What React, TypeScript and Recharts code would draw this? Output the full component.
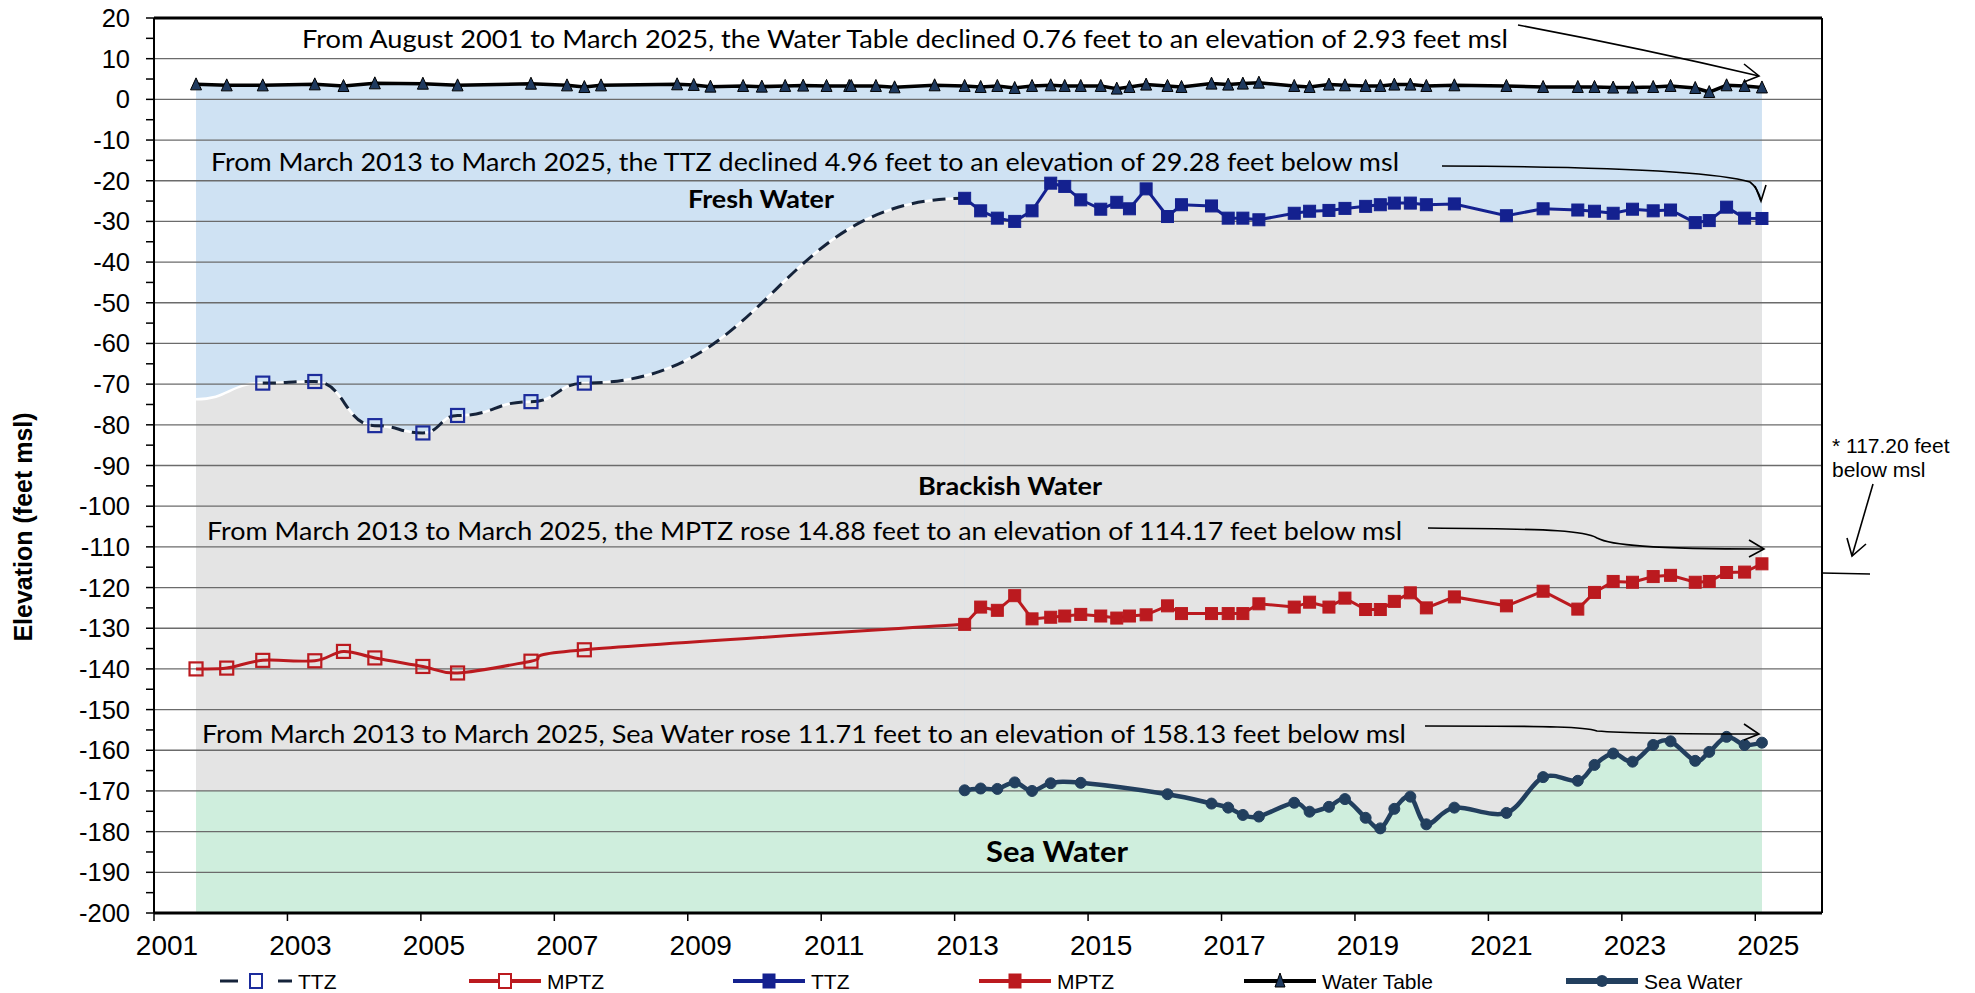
import React from 'react';
import { ComposedChart, Line, Area, XAxis, YAxis, ReferenceLine, Legend } from 'recharts';

// survey dates (decimal years) and elevations (feet msl)
const earlyDates = [
  2001.63, 2002.09, 2002.63, 2003.41, 2003.84, 2004.31, 2005.03, 2005.55, 2006.65, 2007.19,
  2007.45, 2007.7, 2008.84, 2009.09, 2009.34, 2009.83, 2010.11, 2010.46, 2010.73, 2011.08,
  2011.42, 2011.45, 2011.82, 2012.1, 2012.7,
];
const earlyWaterTable = [
  3.69, 3.44, 3.44, 3.69, 3.28, 3.94, 3.85, 3.44, 3.85, 3.44,
  3.03, 3.44, 3.7, 3.55, 3.13, 3.3, 3.13, 3.3, 3.38, 3.3,
  3.3, 3.3, 3.3, 2.96, 3.46,
];

const earlyTtzDates = [2002.63, 2003.41, 2004.31, 2005.03, 2005.55, 2006.65, 2007.45];
const earlyTtz = [-69.75, -69.35, -80.2, -82.0, -77.7, -74.3, -69.75];

const earlyMptzDates = [2001.63, 2002.09, 2002.63, 2003.41, 2003.84, 2004.31, 2005.03, 2005.55, 2006.65, 2007.45];
const earlyMptz = [-140.0, -139.8, -137.9, -138.0, -135.7, -137.3, -139.4, -141.0, -138.1, -135.3];

const recentDates = [
  2013.15, 2013.39, 2013.64, 2013.9, 2014.16, 2014.44, 2014.65, 2014.89, 2015.19, 2015.43,
  2015.62, 2015.87, 2016.19, 2016.4, 2016.85, 2017.1, 2017.32, 2017.56, 2018.09, 2018.32,
  2018.61, 2018.85, 2019.16, 2019.38, 2019.59, 2019.83, 2020.07, 2020.49, 2021.27, 2021.82,
  2022.34, 2022.59, 2022.87, 2023.16, 2023.47, 2023.73, 2024.1, 2024.31, 2024.57, 2024.84,
  2025.1,
];
const recentWaterTable = [
  3.3, 3.05, 3.3, 2.8, 3.3, 3.46, 3.3, 3.3, 3.3, 2.64,
  3.05, 3.63, 3.3, 3.05, 3.87, 3.63, 3.87, 4.1, 3.3, 3.05,
  3.63, 3.46, 3.3, 3.3, 3.63, 3.63, 3.3, 3.46, 3.3, 3.05,
  3.05, 3.05, 2.9, 2.9, 3.05, 3.3, 2.8, 1.8, 3.46, 3.3,
  2.93,
];
const recentTtz = [
  -24.32, -27.4, -29.2, -30.0, -27.4, -20.6, -21.4, -24.7, -27.0, -25.3,
  -26.9, -22.0, -28.8, -25.9, -26.2, -29.2, -29.2, -29.6, -28.0, -27.5,
  -27.3, -26.8, -26.3, -25.9, -25.5, -25.5, -25.9, -25.7, -28.6, -26.9,
  -27.2, -27.5, -28.0, -27.0, -27.4, -27.2, -30.3, -29.8, -26.5, -29.2,
  -29.28,
];
const recentMptz = [
  -129.05, -124.8, -125.6, -122.0, -127.7, -127.3, -127.0, -126.6, -127.0, -127.5,
  -127.0, -126.7, -124.5, -126.4, -126.4, -126.4, -126.4, -124.0, -124.8, -123.6,
  -124.8, -122.6, -125.4, -125.4, -123.4, -121.3, -125.0, -122.3, -124.5, -120.9,
  -125.3, -121.2, -118.5, -118.7, -117.3, -117.0, -118.7, -118.5, -116.3, -116.2,
  -114.17,
];

const seaDates = [
  2013.15, 2013.39, 2013.64, 2013.9, 2014.16, 2014.44, 2014.89, 2016.19, 2016.85, 2017.1,
  2017.32, 2017.56, 2018.09, 2018.32, 2018.61, 2018.85, 2019.16, 2019.38, 2019.59, 2019.83,
  2020.07, 2020.49, 2021.27, 2021.82, 2022.34, 2022.59, 2022.87, 2023.16, 2023.47, 2023.73,
  2024.1, 2024.31, 2024.57, 2024.84, 2025.1,
];
const seaWater = [
  -169.84, -169.4, -169.5, -167.9, -170.0, -168.1, -168.0, -170.8, -173.1, -174.1,
  -175.9, -176.3, -172.9, -175.1, -173.9, -172.0, -176.6, -179.2, -174.4, -171.4,
  -178.2, -174.1, -175.4, -166.6, -167.5, -163.6, -160.8, -162.8, -158.7, -157.8,
  -162.6, -160.4, -156.7, -158.7, -158.13,
];

// edges of the shaded zones before the first TTZ / sea water readings
const brackishStart = -73.7;
const seaStart = -170;

const yearTicks = [2001, 2003, 2005, 2007, 2009, 2011, 2013, 2015, 2017, 2019, 2021, 2023, 2025];
const elevationTicks = [
  20, 15, 10, 5, 0, -5, -10, -15, -20, -25, -30, -35, -40, -45, -50, -55, -60, -65, -70, -75,
  -80, -85, -90, -95, -100, -105, -110, -115, -120, -125, -130, -135, -140, -145, -150, -155,
  -160, -165, -170, -175, -180, -185, -190, -195, -200,
];
const gridValues = [10, 0, -10, -20, -30, -40, -50, -60, -70, -80, -90, -100, -110, -120, -130, -140, -150, -160, -170, -180, -190];

// merge everything into one table keyed by date
const rows = new Map<number, any>();
const put = (dates: number[], values: number[], key: string) => {
  dates.forEach((d, i) => {
    const r = rows.get(d) ?? { x: d };
    r[key] = values[i];
    rows.set(d, r);
  });
};
put([...earlyDates, ...recentDates], [...earlyWaterTable, ...recentWaterTable], 'wt');
put([...earlyTtzDates, recentDates[0]], [...earlyTtz, recentTtz[0]], 'ttzOld');
put([...earlyMptzDates, recentDates[0]], [...earlyMptz, recentMptz[0]], 'mptzOld');
put(recentDates, recentTtz, 'ttz');
put(recentDates, recentMptz, 'mptz');
put(seaDates, seaWater, 'sea');
put([earlyDates[0], ...earlyTtzDates, recentDates[0]], [brackishStart, ...earlyTtz, recentTtz[0]], 'grayOld');
put(recentDates, recentTtz, 'grayNew');
put([earlyDates[0], ...seaDates], [seaStart, ...seaWater], 'green');
const data = [...rows.values()].sort((a, b) => a.x - b.x);

// Excel-like smoothed line (uniform Catmull-Rom)
const catmullRom = (context: any) => {
  let pts: number[][] = [];
  let line = NaN;
  return {
    areaStart() { line = 0; },
    areaEnd() { line = NaN; },
    lineStart() { pts = []; },
    point(x: number, y: number) { pts.push([+x, +y]); },
    lineEnd() {
      const n = pts.length;
      if (n > 0) {
        if (line) context.lineTo(pts[0][0], pts[0][1]);
        else context.moveTo(pts[0][0], pts[0][1]);
        for (let i = 0; i < n - 1; i += 1) {
          const p0 = pts[i - 1] || pts[i];
          const p1 = pts[i];
          const p2 = pts[i + 1];
          const p3 = pts[i + 2] || p2;
          context.bezierCurveTo(
            p1[0] + (p2[0] - p0[0]) / 6, p1[1] + (p2[1] - p0[1]) / 6,
            p2[0] - (p3[0] - p1[0]) / 6, p2[1] - (p3[1] - p1[1]) / 6,
            p2[0], p2[1],
          );
        }
      }
      if (line || (line !== 0 && n === 1)) context.closePath();
      line = 1 - line;
    },
  };
};

const C = {
  fresh: '#CFE2F3',
  brackish: '#E4E4E4',
  sea: '#CFEEDD',
  ttz: '#14218F',
  ttzOutline: '#1C2C9C',
  ttzDash: '#15233A',
  mptz: '#BB1A1F',
  seaLine: '#223F5E',
  wtMarker: '#1F3A5F',
  grid: '#6b6b6b',
};
const NUM_FONT = "'Liberation Sans', Arial, sans-serif";
const NOTE_FONT = "Lato, 'Open Sans', sans-serif";

const empty = (p: any) => <g key={p.key ?? p.index} />;
const isMissing = (p: any) => p.cx == null || p.cy == null || p.value == null || Number.isNaN(p.cy);

const squareDot = (color: string, filled: boolean, size: number, skipAfter?: number) => (p: any) => {
  if (isMissing(p) || (skipAfter != null && p.payload.x > skipAfter)) return empty(p);
  return (
    <rect key={p.key ?? p.index} x={p.cx - size / 2} y={p.cy - size / 2} width={size} height={size}
      fill={filled ? color : 'none'} stroke={color} strokeWidth={filled ? 1 : 2.2} />
  );
};
const triangleDot = (p: any) => {
  if (isMissing(p)) return empty(p);
  const { cx, cy } = p;
  return (
    <path key={p.key ?? p.index} d={`M${cx},${cy - 6.5} L${cx + 5.5},${cy + 5.5} L${cx - 5.5},${cy + 5.5} Z`}
      fill={C.wtMarker} stroke="#000" strokeWidth={1} />
  );
};
const circleDot = (p: any) => {
  if (isMissing(p)) return empty(p);
  return <circle key={p.key ?? p.index} cx={p.cx} cy={p.cy} r={5.5} fill={C.seaLine} stroke={C.seaLine} strokeWidth={1} />;
};

const XTick = (p: any) => (
  <text x={p.x + 13} y={p.y + 32} textAnchor="middle" fontSize={28} fontFamily={NUM_FONT} fill="#000">
    {p.payload.value}
  </text>
);
const YTick = (p: any) => {
  if (p.payload.value % 10 !== 0) return <g />;
  return (
    <text x={p.x} y={p.y + 9} textAnchor="end" fontSize={25.5} fontFamily={NUM_FONT} fill="#000">
      {p.payload.value}
    </text>
  );
};

const legendItems = [
  { label: 'TTZ', kind: 'ttzOld', left: 220 },
  { label: 'MPTZ', kind: 'mptzOld', left: 469 },
  { label: 'TTZ', kind: 'ttz', left: 733 },
  { label: 'MPTZ', kind: 'mptz', left: 979 },
  { label: 'Water Table', kind: 'wt', left: 1244 },
  { label: 'Sea Water', kind: 'sea', left: 1566 },
];

const LegendContent = () => {
  const cy = 16;
  return (
    <svg width={1975} height={32} style={{ display: 'block' }}>
      {legendItems.map((it) => {
        const x0 = it.left;
        const x1 = it.left + 72;
        const mx = it.left + 36;
        let icon: React.ReactNode = null;
        if (it.kind === 'ttzOld') {
          icon = (
            <g>
              <line x1={x0} x2={x0 + 18} y1={cy} y2={cy} stroke={C.ttzDash} strokeWidth={3} />
              <line x1={x1 - 14} x2={x1} y1={cy} y2={cy} stroke={C.ttzDash} strokeWidth={3} />
              <rect x={mx - 6} y={cy - 7} width={12} height={14} fill="#fff" stroke={C.ttzOutline} strokeWidth={2} />
            </g>
          );
        } else if (it.kind === 'mptzOld') {
          icon = (
            <g>
              <line x1={x0} x2={x1} y1={cy} y2={cy} stroke={C.mptz} strokeWidth={4} />
              <rect x={mx - 6} y={cy - 7} width={12} height={14} fill="#fff" stroke={C.mptz} strokeWidth={2} />
            </g>
          );
        } else if (it.kind === 'ttz' || it.kind === 'mptz') {
          const col = it.kind === 'ttz' ? C.ttz : C.mptz;
          icon = (
            <g>
              <line x1={x0} x2={x1} y1={cy} y2={cy} stroke={col} strokeWidth={4} />
              <rect x={mx - 6} y={cy - 7} width={12} height={14} fill={col} stroke={col} />
            </g>
          );
        } else if (it.kind === 'wt') {
          icon = (
            <g>
              <line x1={x0} x2={x1} y1={cy} y2={cy} stroke="#000" strokeWidth={4} />
              <path d={`M${mx},${cy - 8} L${mx + 5},${cy + 6} L${mx - 5},${cy + 6} Z`} fill={C.wtMarker} stroke="#000" />
            </g>
          );
        } else {
          icon = (
            <g>
              <line x1={x0} x2={x1} y1={cy} y2={cy} stroke={C.seaLine} strokeWidth={6} />
              <circle cx={mx} cy={cy} r={6} fill={C.seaLine} />
            </g>
          );
        }
        return (
          <g key={it.kind}>
            {icon}
            <text x={x1 + 6} y={cy + 7.5} fontSize={21} fontFamily={NUM_FONT} fill="#000">{it.label}</text>
          </g>
        );
      })}
    </svg>
  );
};

const notes = [
  { text: 'From August 2001 to March 2025, the Water Table declined 0.76 feet to an elevation of 2.93 feet msl', x: 302, y: 47.5, len: 1206 },
  { text: 'From March 2013 to March 2025, the TTZ declined 4.96 feet to an elevation of 29.28 feet below msl', x: 211, y: 171, len: 1188 },
  { text: 'From March 2013 to March 2025, the MPTZ rose 14.88 feet to an elevation of 114.17 feet below msl', x: 207, y: 540, len: 1195 },
  { text: 'From March 2013 to March 2025, Sea Water rose 11.71 feet to an elevation of 158.13 feet below msl', x: 202, y: 743, len: 1204 },
];
const zoneLabels = [
  { text: 'Fresh Water', x: 688, y: 208, len: 146, size: 25 },
  { text: 'Brackish Water', x: 918, y: 495, len: 184, size: 25 },
  { text: 'Sea Water', x: 986, y: 862, len: 142, size: 28 },
];

const Overlay = () => (
  <svg width={1975} height={993} style={{ position: 'absolute', left: 0, top: 0, pointerEvents: 'none' }}>
    {notes.map((n) => (
      <text key={n.text} x={n.x} y={n.y} fontSize={25} fontFamily={NOTE_FONT} fill="#000"
        textLength={n.len} lengthAdjust="spacingAndGlyphs">{n.text}</text>
    ))}
    {zoneLabels.map((n) => (
      <text key={n.text} x={n.x} y={n.y} fontSize={n.size} fontWeight="bold" fontFamily={NOTE_FONT} fill="#000"
        textLength={n.len} lengthAdjust="spacingAndGlyphs">{n.text}</text>
    ))}
    <g fill="none" stroke="#000" strokeWidth={1.6}>
      <path d="M1518,25 Q1640,48 1759,76" />
      <path d="M1744,64 L1759,76 L1744,82" />
      <path d="M1442,166 Q1700,167 1750,182 Q1758,188 1761,201" />
      <path d="M1755,186 L1761,201 L1766,185" />
      <path d="M1428,528 C1560,529 1585,531 1597,538 C1610,545 1650,549 1764,549" />
      <path d="M1749,540 L1764,549 L1749,557" />
      <path d="M1425,726 C1560,726 1585,727 1597,731 C1620,733 1700,734 1759,734" />
      <path d="M1744,724 L1759,734 L1744,740" />
      <path d="M1873,484 L1852,556" />
      <path d="M1847,538 L1852,556 L1866,544" />
      <path d="M1822,573 L1870,574" />
    </g>
    <text x={1832} y={453} fontSize={21} fontFamily={NUM_FONT} fill="#000">* 117.20 feet</text>
    <text x={1832} y={477} fontSize={21} fontFamily={NUM_FONT} fill="#000">below msl</text>
    <text x={32} y={527} transform="rotate(-90, 32, 527)" textAnchor="middle" fontSize={25} fontWeight="bold"
      fontFamily={NUM_FONT} fill="#000">Elevation (feet msl)</text>
  </svg>
);

export default function App() {
  return (
    <div style={{ position: 'absolute', left: 0, top: 0, width: 1975, height: 993, background: '#fff' }}>
      <ComposedChart width={1975} height={993} data={data} margin={{ top: 18, right: 153, bottom: 30, left: 94 }}>
        <XAxis type="number" dataKey="x" domain={[2001, 2026]} ticks={yearTicks} interval={0} height={50}
          tick={XTick} tickSize={8} axisLine={{ stroke: '#000', strokeWidth: 3 }} tickLine={{ stroke: '#000', strokeWidth: 1.5 }} />
        <YAxis type="number" domain={[-200, 20]} ticks={elevationTicks} interval={0} width={60}
          tick={YTick} tickSize={8} tickMargin={16} axisLine={{ stroke: '#000', strokeWidth: 2 }} tickLine={{ stroke: '#000', strokeWidth: 1.5 }} />

        <Area dataKey="wt" type="linear" baseValue={-200} connectNulls fill={C.fresh} fillOpacity={1} stroke="none" isAnimationActive={false} />
        <Area dataKey="grayOld" type="bumpX" baseValue={-200} connectNulls fill={C.brackish} fillOpacity={1} stroke="#fff" strokeWidth={2.5} isAnimationActive={false} />
        <Area dataKey="grayNew" type="linear" baseValue={-200} connectNulls fill={C.brackish} fillOpacity={1} stroke="#fff" strokeWidth={2} isAnimationActive={false} />
        <Area dataKey="green" type={catmullRom as any} baseValue={-200} connectNulls fill={C.sea} fillOpacity={1} stroke="none" isAnimationActive={false} />

        {gridValues.map((v) => (
          <ReferenceLine key={v} y={v} stroke={C.grid} strokeWidth={1.3} />
        ))}
        <ReferenceLine y={20} stroke="#000" strokeWidth={3} />
        <ReferenceLine x={2026} stroke="#000" strokeWidth={2} />

        <Line dataKey="wt" type="linear" connectNulls stroke="#000" strokeWidth={3.5} dot={triangleDot} isAnimationActive={false} />
        <Line dataKey="ttzOld" type="bumpX" connectNulls stroke={C.ttzDash} strokeWidth={3} strokeDasharray="13 8"
          dot={squareDot(C.ttzOutline, false, 13, 2013)} isAnimationActive={false} />
        <Line dataKey="mptzOld" type={catmullRom as any} connectNulls stroke={C.mptz} strokeWidth={3}
          dot={squareDot(C.mptz, false, 13, 2013)} isAnimationActive={false} />
        <Line dataKey="ttz" type="linear" connectNulls stroke={C.ttz} strokeWidth={3} dot={squareDot(C.ttz, true, 12)} isAnimationActive={false} />
        <Line dataKey="mptz" type="linear" connectNulls stroke={C.mptz} strokeWidth={3} dot={squareDot(C.mptz, true, 12)} isAnimationActive={false} />
        <Line dataKey="sea" type={catmullRom as any} connectNulls stroke={C.seaLine} strokeWidth={4.5} dot={circleDot} isAnimationActive={false} />

        <Legend layout="horizontal" verticalAlign="middle" align="center" content={LegendContent}
          wrapperStyle={{ left: 0, top: 965, width: 1975 }} />
      </ComposedChart>
      <Overlay />
    </div>
  );
}
